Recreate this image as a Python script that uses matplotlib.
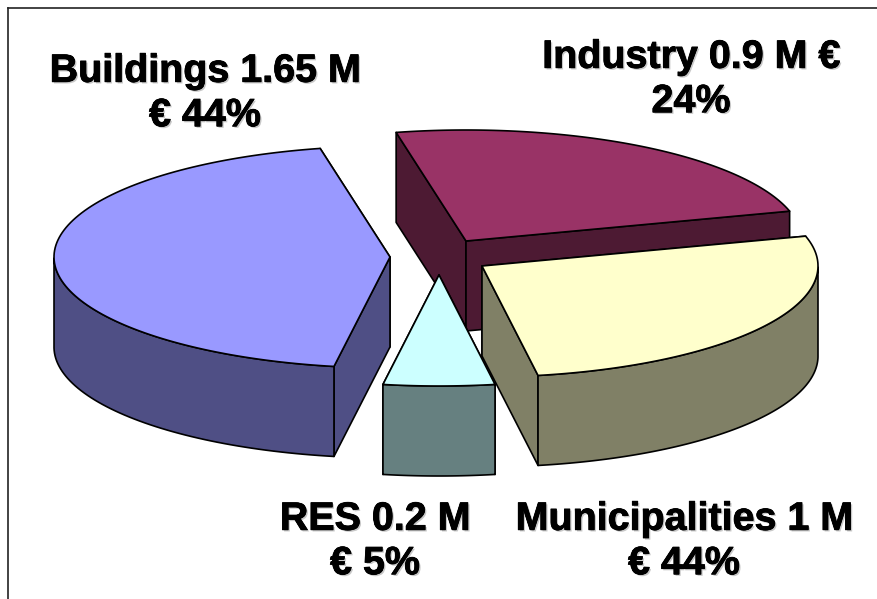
import numpy as np
import matplotlib
matplotlib.use('Agg')
import matplotlib.pyplot as plt
import matplotlib.patheffects as pe
from matplotlib.patches import Polygon

names = ['Buildings', 'RES', 'Municipalities', 'Industry']
values = [1.65, 0.2, 1.0, 0.9]
labels = ['Buildings 1.65 M\n€ 44%', 'RES 0.2 M\n€ 5%', 'Municipalities 1 M\n€ 44%', 'Industry 0.9 M €\n24%']
top_colors = ['#9999FF', '#CCFFFF', '#FFFFCC', '#993366']
side_colors = ['#4F4F85', '#668080', '#808066', '#4D1A33']

# where each slice's tip ends up after the explosion (pixels)
tips = [(390, 257), (439, 275), (482, 266), (466, 241)]
label_pos = [(205, 94), (375, 542), (684, 542), (691, 80)]

rx, ry = 336, 111
depth = 90
start = 12.0   # degrees left of straight up, going counter clockwise

fig = plt.figure(figsize=(8.77, 5.99), dpi=100)
ax = fig.add_axes([8 / 877, 0, 869 / 877, 591 / 599])
ax.set_xlim(8, 877)
ax.set_ylim(599, 8)
ax.set_xticks([])
ax.set_yticks([])
ax.spines['right'].set_visible(False)
ax.spines['bottom'].set_visible(False)
ax.spines['left'].set_linewidth(1.2)
ax.spines['top'].set_linewidth(1.2)
ax.spines['left'].set_color('#222222')
ax.spines['top'].set_color('#222222')


def rim(tip, a):
    # a in degrees counter clockwise from straight up
    r = np.radians(a)
    return tip[0] - rx * np.sin(r), tip[1] - ry * np.cos(r)


def draw_slice(tip, a0, a1, top, side):
    ang = np.linspace(a0, a1, 120)
    xs, ys = rim(tip, ang)

    # cut faces, the one further back goes down first
    ends = [0, -1] if ys[0] < ys[-1] else [-1, 0]
    for i in ends:
        quad = [tip, (xs[i], ys[i]), (xs[i], ys[i] + depth), (tip[0], tip[1] + depth)]
        ax.add_patch(Polygon(quad, closed=True, fc=side, ec='black', lw=1.2, joinstyle='round'))

    # outer wall, only the part facing the viewer
    front = np.cos(np.radians(ang)) < 0
    if front.any():
        fx, fy = xs[front], ys[front]
        wall = np.r_[np.c_[fx, fy], np.c_[fx[::-1], fy[::-1] + depth]]
        ax.add_patch(Polygon(wall, closed=True, fc=side, ec='black', lw=1.2, joinstyle='round'))

    face = np.r_[[tip], np.c_[xs, ys]]
    ax.add_patch(Polygon(face, closed=True, fc=top, ec='black', lw=1.2, joinstyle='round'))


sweeps = np.array(values) / sum(values) * 360
edges = start + np.r_[0, np.cumsum(sweeps)]

# back slice first so the nearer ones cover it
for i in [3, 0, 2, 1]:
    draw_slice(tips[i], edges[i], edges[i + 1], top_colors[i], side_colors[i])

effects = [pe.withSimplePatchShadow(offset=(1.2, -1.2), shadow_rgbFace='#bbbbbb', alpha=0.8),
           pe.withStroke(linewidth=0.6, foreground='black')]
for txt, (x, y) in zip(labels, label_pos):
    ax.text(x, y, txt, ha='center', va='center', fontsize=28.4, fontweight='bold',
            family='Liberation Sans', color='black', linespacing=1.3, path_effects=effects)

fig.savefig('out.png', dpi=100)
